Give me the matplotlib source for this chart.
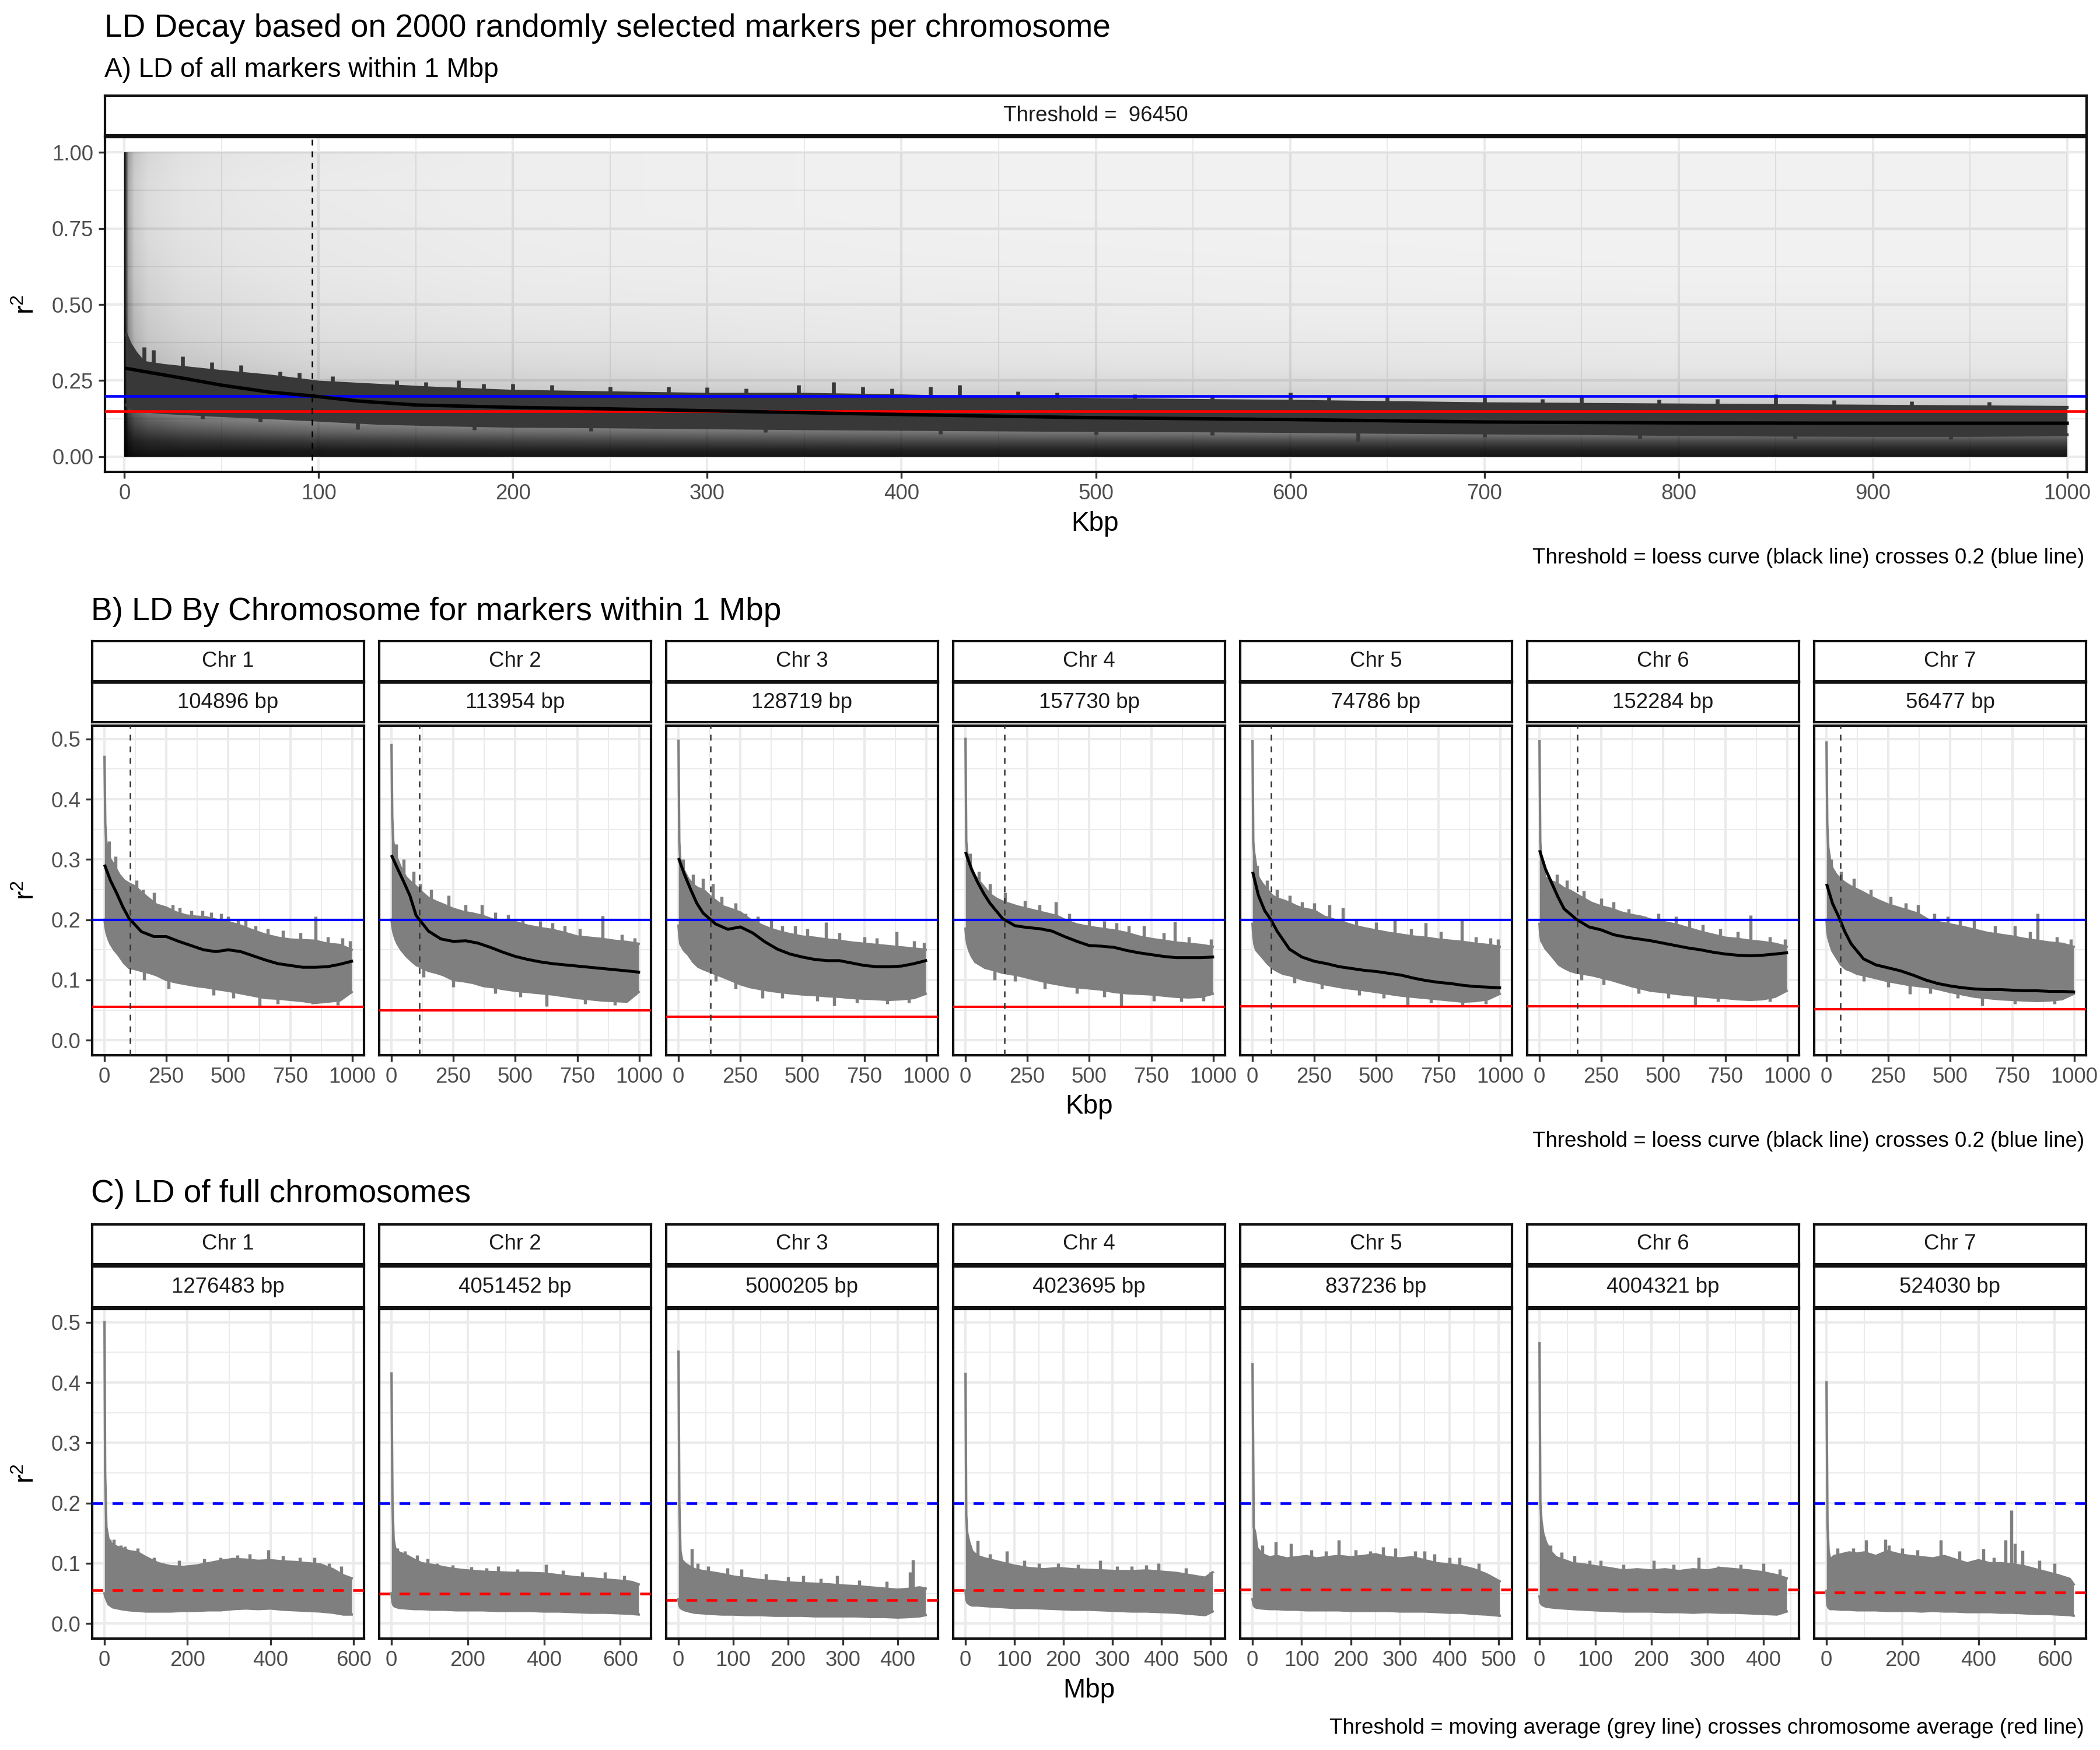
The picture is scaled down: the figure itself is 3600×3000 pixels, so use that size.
import numpy as np
import matplotlib.pyplot as plt

plt.rcParams['font.family'] = ['Liberation Sans', 'DejaVu Sans']
plt.rcParams['mathtext.fontset'] = 'custom'
plt.rcParams['mathtext.rm'] = 'Liberation Sans'

W, H = 3600, 3000

# ---------------- data ----------------
chroms = ["Chr 1", "Chr 2", "Chr 3", "Chr 4", "Chr 5", "Chr 6", "Chr 7"]
threshold_all = 96450
b_thresh_bp = [104896, 113954, 128719, 157730, 74786, 152284, 56477]
c_size_bp = [1276483, 4051452, 5000205, 4023695, 837236, 4004321, 524030]
chrom_avg = [0.055, 0.050, 0.039, 0.055, 0.056, 0.056, 0.051]
a_avg = 0.15

# panel A: estimated point density of the r2 cloud (rows = r2, cols = Kbp)
dens_x = [0, 2, 5, 12, 30, 60, 100, 200, 400, 600, 800, 1000]
dens_y = [0.0, 0.02, 0.05, 0.08, 0.12, 0.16, 0.20, 0.25, 0.30, 0.40, 0.50, 0.60, 0.70, 0.80, 0.90, 1.0]
dens = [
    [1.0, 0.97, 0.95, 0.94, 0.93, 0.93, 0.92, 0.92, 0.92, 0.92, 0.92, 0.92],
    [1.0, 0.95, 0.92, 0.90, 0.90, 0.90, 0.90, 0.88, 0.88, 0.88, 0.88, 0.88],
    [1.0, 0.92, 0.88, 0.85, 0.82, 0.80, 0.78, 0.75, 0.72, 0.72, 0.72, 0.72],
    [1.0, 0.88, 0.80, 0.75, 0.70, 0.66, 0.62, 0.58, 0.55, 0.52, 0.50, 0.50],
    [1.0, 0.80, 0.70, 0.62, 0.55, 0.50, 0.46, 0.42, 0.38, 0.35, 0.33, 0.33],
    [1.0, 0.72, 0.60, 0.50, 0.42, 0.38, 0.34, 0.30, 0.26, 0.24, 0.22, 0.22],
    [1.0, 0.65, 0.50, 0.40, 0.34, 0.30, 0.26, 0.23, 0.20, 0.18, 0.17, 0.17],
    [1.0, 0.58, 0.42, 0.33, 0.28, 0.24, 0.21, 0.18, 0.15, 0.14, 0.13, 0.13],
    [1.0, 0.52, 0.36, 0.28, 0.23, 0.20, 0.17, 0.15, 0.12, 0.11, 0.10, 0.10],
    [1.0, 0.46, 0.30, 0.22, 0.18, 0.15, 0.13, 0.11, 0.09, 0.085, 0.08, 0.08],
    [0.95, 0.42, 0.26, 0.19, 0.15, 0.13, 0.11, 0.09, 0.08, 0.07, 0.07, 0.07],
    [0.95, 0.38, 0.23, 0.17, 0.13, 0.11, 0.095, 0.08, 0.07, 0.065, 0.06, 0.06],
    [0.95, 0.36, 0.21, 0.15, 0.12, 0.10, 0.09, 0.075, 0.065, 0.06, 0.055, 0.055],
    [0.95, 0.34, 0.20, 0.14, 0.11, 0.095, 0.085, 0.07, 0.06, 0.055, 0.055, 0.055],
    [0.95, 0.34, 0.20, 0.14, 0.11, 0.09, 0.08, 0.07, 0.06, 0.055, 0.055, 0.055],
    [0.95, 0.38, 0.23, 0.16, 0.12, 0.10, 0.09, 0.07, 0.06, 0.055, 0.055, 0.055],
]

# panel A moving average band + loess
a_x = [1, 3, 6, 10, 20, 35, 50, 75, 100, 130, 160, 200, 250, 300, 350, 400, 450, 500,
       550, 600, 650, 700, 750, 800, 850, 900, 950, 1000]
a_upper = [0.40, 0.37, 0.34, 0.31, 0.30, 0.29, 0.28, 0.265, 0.245, 0.235, 0.225, 0.215, 0.21,
           0.205, 0.205, 0.20, 0.192, 0.188, 0.185, 0.182, 0.178, 0.174, 0.172, 0.17, 0.168,
           0.166, 0.164, 0.162]
a_lower = [0.17, 0.16, 0.155, 0.15, 0.145, 0.14, 0.135, 0.128, 0.12, 0.11, 0.105, 0.10, 0.098,
           0.095, 0.092, 0.09, 0.088, 0.086, 0.085, 0.083, 0.08, 0.078, 0.076, 0.073, 0.071,
           0.07, 0.07, 0.072]
a_spike_x = [10, 15, 30, 45, 60, 80, 90, 107, 140, 155, 172, 185, 200, 220, 250, 280, 300, 320,
             347, 365, 380, 395, 415, 430, 460, 480, 520, 560, 600, 620, 650, 700, 730, 750,
             790, 820, 850, 880, 920, 960]
a_spike_top = [0.36, 0.35, 0.33, 0.31, 0.30, 0.28, 0.275, 0.265, 0.25, 0.245, 0.25, 0.24, 0.24,
               0.235, 0.23, 0.23, 0.228, 0.225, 0.235, 0.245, 0.23, 0.225, 0.23, 0.235, 0.215,
               0.21, 0.205, 0.203, 0.21, 0.20, 0.198, 0.195, 0.19, 0.20, 0.188, 0.19, 0.205,
               0.185, 0.182, 0.18]
a_dip_x = [40, 70, 120, 180, 240, 330, 420, 500, 560, 635, 700, 780, 860, 940]
a_dip_bot = [0.125, 0.115, 0.09, 0.088, 0.085, 0.08, 0.075, 0.072, 0.07, 0.05, 0.065, 0.06,
             0.06, 0.058]
a_loess_x = [1, 30, 50, 75, 96.45, 120, 150, 200, 250, 300, 370, 450, 500, 600, 700, 800, 900, 1000]
a_loess_y = [0.29, 0.258, 0.235, 0.212, 0.20, 0.183, 0.17, 0.162, 0.157, 0.151, 0.142, 0.133,
             0.128, 0.122, 0.114, 0.111, 0.11, 0.11]

# panel B (Kbp), one list per chromosome
b_x = [1, 4, 8, 15, 25, 40, 60, 80, 100, 125, 150, 180, 210, 250, 290, 330, 370, 410, 450,
       500, 550, 600, 650, 700, 750, 800, 850, 900, 950, 997]
b_upper = [
    [0.47, 0.36, 0.33, 0.31, 0.30, 0.29, 0.275, 0.265, 0.26, 0.255, 0.245, 0.235, 0.225, 0.22, 0.212,
     0.207, 0.205, 0.204, 0.20, 0.196, 0.19, 0.182, 0.175, 0.17, 0.167, 0.166, 0.165, 0.16, 0.158, 0.15],
    [0.49, 0.37, 0.33, 0.31, 0.30, 0.285, 0.27, 0.262, 0.255, 0.245, 0.236, 0.23, 0.225, 0.218, 0.213,
     0.21, 0.206, 0.20, 0.198, 0.196, 0.19, 0.186, 0.183, 0.178, 0.172, 0.17, 0.168, 0.165, 0.163, 0.16],
    [0.497, 0.33, 0.30, 0.29, 0.28, 0.268, 0.258, 0.252, 0.25, 0.24, 0.232, 0.222, 0.218, 0.212, 0.20,
     0.192, 0.185, 0.18, 0.176, 0.172, 0.17, 0.167, 0.165, 0.162, 0.16, 0.158, 0.156, 0.154, 0.152, 0.15],
    [0.50, 0.33, 0.31, 0.30, 0.285, 0.272, 0.262, 0.252, 0.242, 0.235, 0.23, 0.226, 0.222, 0.218, 0.214,
     0.21, 0.206, 0.198, 0.192, 0.188, 0.185, 0.182, 0.178, 0.172, 0.168, 0.165, 0.162, 0.16, 0.158, 0.155],
    [0.496, 0.33, 0.31, 0.29, 0.27, 0.26, 0.25, 0.24, 0.235, 0.232, 0.228, 0.222, 0.218, 0.215, 0.205,
     0.20, 0.195, 0.19, 0.186, 0.182, 0.178, 0.175, 0.172, 0.17, 0.167, 0.165, 0.163, 0.16, 0.158, 0.155],
    [0.496, 0.33, 0.30, 0.28, 0.27, 0.265, 0.262, 0.258, 0.252, 0.248, 0.242, 0.235, 0.228, 0.222, 0.218,
     0.212, 0.208, 0.205, 0.20, 0.196, 0.192, 0.186, 0.18, 0.175, 0.17, 0.168, 0.165, 0.163, 0.16, 0.155],
    [0.494, 0.36, 0.32, 0.30, 0.285, 0.275, 0.266, 0.26, 0.255, 0.25, 0.245, 0.238, 0.232, 0.225, 0.22,
     0.215, 0.21, 0.20, 0.196, 0.192, 0.188, 0.183, 0.178, 0.175, 0.172, 0.168, 0.165, 0.162, 0.16, 0.155],
]
b_lower = [
    [0.20, 0.19, 0.18, 0.17, 0.16, 0.15, 0.14, 0.128, 0.12, 0.118, 0.115, 0.112, 0.108, 0.10, 0.096,
     0.093, 0.09, 0.088, 0.085, 0.082, 0.078, 0.074, 0.07, 0.069, 0.067, 0.065, 0.062, 0.064, 0.066, 0.08],
    [0.20, 0.19, 0.18, 0.17, 0.16, 0.15, 0.14, 0.132, 0.125, 0.12, 0.115, 0.112, 0.108, 0.10, 0.098,
     0.095, 0.09, 0.088, 0.085, 0.082, 0.08, 0.078, 0.076, 0.073, 0.07, 0.068, 0.066, 0.065, 0.064, 0.08],
    [0.19, 0.175, 0.16, 0.155, 0.148, 0.142, 0.13, 0.122, 0.118, 0.114, 0.11, 0.105, 0.10, 0.093, 0.088,
     0.085, 0.082, 0.08, 0.078, 0.076, 0.075, 0.073, 0.072, 0.07, 0.069, 0.068, 0.067, 0.068, 0.07, 0.077],
    [0.185, 0.17, 0.16, 0.15, 0.14, 0.13, 0.125, 0.12, 0.118, 0.115, 0.112, 0.11, 0.108, 0.104, 0.10,
     0.096, 0.093, 0.09, 0.088, 0.086, 0.084, 0.08, 0.078, 0.077, 0.076, 0.074, 0.072, 0.071, 0.072, 0.077],
    [0.193, 0.175, 0.16, 0.15, 0.145, 0.138, 0.128, 0.12, 0.115, 0.11, 0.108, 0.104, 0.10, 0.097, 0.093,
     0.09, 0.087, 0.085, 0.083, 0.08, 0.077, 0.074, 0.072, 0.07, 0.068, 0.066, 0.064, 0.065, 0.068, 0.077],
    [0.193, 0.175, 0.165, 0.16, 0.152, 0.145, 0.135, 0.125, 0.12, 0.115, 0.112, 0.11, 0.108, 0.104, 0.10,
     0.095, 0.09, 0.086, 0.082, 0.08, 0.077, 0.075, 0.073, 0.071, 0.07, 0.068, 0.067, 0.068, 0.072, 0.082],
    [0.20, 0.18, 0.17, 0.16, 0.148, 0.138, 0.125, 0.118, 0.115, 0.11, 0.108, 0.105, 0.102, 0.098, 0.095,
     0.092, 0.09, 0.088, 0.085, 0.08, 0.076, 0.072, 0.07, 0.068, 0.067, 0.066, 0.065, 0.066, 0.068, 0.077],
]
b_spike_x = [
    [20, 45, 100, 130, 155, 200, 245, 275, 305, 350, 395, 430, 470, 500, 540, 570, 610, 660, 720,
     790, 852, 900, 960, 990],
    [20, 50, 90, 115, 160, 230, 300, 365, 420, 470, 530, 600, 650, 700, 760, 851, 930, 980],
    [20, 60, 100, 140, 175, 230, 270, 320, 375, 420, 470, 520, 595, 650, 750, 800, 880, 950, 990],
    [20, 55, 100, 160, 240, 300, 365, 420, 500, 560, 610, 660, 720, 800, 845, 900, 990],
    [20, 60, 100, 150, 200, 250, 310, 365, 420, 500, 575, 640, 700, 760, 845, 900, 960, 990],
    [20, 70, 110, 180, 250, 300, 360, 425, 480, 550, 605, 660, 730, 800, 851, 930, 990],
    [20, 60, 110, 180, 260, 320, 370, 435, 490, 540, 595, 680, 760, 820, 852, 930, 985],
]
b_spike_top = [
    [0.33, 0.305, 0.258, 0.265, 0.25, 0.245, 0.222, 0.225, 0.22, 0.215, 0.215, 0.212, 0.21, 0.205,
     0.20, 0.20, 0.19, 0.185, 0.182, 0.178, 0.205, 0.172, 0.17, 0.165],
    [0.325, 0.30, 0.28, 0.26, 0.25, 0.24, 0.225, 0.225, 0.212, 0.208, 0.20, 0.198, 0.195, 0.19,
     0.185, 0.206, 0.175, 0.17],
    [0.30, 0.275, 0.268, 0.26, 0.238, 0.228, 0.21, 0.205, 0.20, 0.19, 0.19, 0.185, 0.196, 0.178,
     0.172, 0.17, 0.18, 0.165, 0.162],
    [0.31, 0.28, 0.26, 0.245, 0.232, 0.225, 0.23, 0.21, 0.20, 0.198, 0.195, 0.19, 0.19, 0.178,
     0.197, 0.172, 0.168],
    [0.29, 0.265, 0.25, 0.24, 0.23, 0.228, 0.225, 0.22, 0.20, 0.196, 0.20, 0.185, 0.195, 0.18,
     0.202, 0.172, 0.17, 0.168],
    [0.285, 0.275, 0.265, 0.248, 0.235, 0.23, 0.218, 0.205, 0.21, 0.205, 0.20, 0.192, 0.185, 0.18,
     0.207, 0.172, 0.168],
    [0.30, 0.28, 0.268, 0.25, 0.238, 0.228, 0.225, 0.21, 0.205, 0.20, 0.20, 0.19, 0.19, 0.18,
     0.21, 0.172, 0.168],
]
b_dip_x = [
    [160, 260, 440, 520, 625, 700, 840, 940],
    [130, 250, 420, 520, 626, 780, 900],
    [150, 230, 338, 420, 560, 629, 720, 843, 930],
    [117, 200, 320, 450, 560, 629, 760, 870, 960],
    [170, 280, 430, 530, 627, 720, 847, 940],
    [170, 260, 400, 520, 628, 720, 930],
    [150, 250, 337, 420, 530, 628, 760, 920],
]
b_dip_bot = [
    [0.10, 0.085, 0.075, 0.07, 0.056, 0.06, 0.06, 0.058],
    [0.105, 0.088, 0.078, 0.072, 0.056, 0.06, 0.058],
    [0.098, 0.085, 0.07, 0.07, 0.065, 0.057, 0.062, 0.06, 0.062],
    [0.10, 0.098, 0.085, 0.078, 0.072, 0.057, 0.065, 0.064, 0.065],
    [0.095, 0.085, 0.075, 0.07, 0.058, 0.062, 0.058, 0.06],
    [0.10, 0.092, 0.078, 0.07, 0.058, 0.064, 0.064],
    [0.098, 0.088, 0.077, 0.078, 0.07, 0.057, 0.06, 0.06],
]

b_loess_x = [3, 25, 50, 75, 100, 150, 200, 250, 300, 350, 400, 450, 500, 550, 600, 650, 700,
             750, 800, 850, 900, 950, 997]
b_loess_y = [
    [0.289, 0.265, 0.244, 0.221, 0.202, 0.18, 0.172, 0.172, 0.164, 0.157, 0.15, 0.147, 0.15, 0.147,
     0.14, 0.133, 0.127, 0.124, 0.121, 0.121, 0.122, 0.126, 0.131],
    [0.305, 0.285, 0.263, 0.24, 0.207, 0.181, 0.168, 0.164, 0.165, 0.161, 0.154, 0.146, 0.139, 0.134,
     0.13, 0.127, 0.125, 0.123, 0.121, 0.119, 0.117, 0.115, 0.113],
    [0.30, 0.275, 0.25, 0.227, 0.211, 0.193, 0.184, 0.188, 0.178, 0.163, 0.151, 0.143, 0.138, 0.134,
     0.132, 0.132, 0.128, 0.124, 0.122, 0.122, 0.123, 0.127, 0.132],
    [0.31, 0.284, 0.262, 0.243, 0.227, 0.202, 0.19, 0.187, 0.185, 0.181, 0.172, 0.164, 0.157, 0.156,
     0.154, 0.149, 0.145, 0.142, 0.139, 0.137, 0.137, 0.137, 0.138],
    [0.277, 0.24, 0.215, 0.20, 0.181, 0.151, 0.138, 0.131, 0.127, 0.122, 0.119, 0.116, 0.114, 0.111,
     0.108, 0.103, 0.099, 0.096, 0.094, 0.091, 0.089, 0.088, 0.087],
    [0.313, 0.284, 0.261, 0.238, 0.218, 0.2005, 0.188, 0.183, 0.175, 0.171, 0.168, 0.165, 0.161, 0.157,
     0.153, 0.15, 0.146, 0.143, 0.141, 0.14, 0.141, 0.143, 0.145],
    [0.257, 0.227, 0.205, 0.18, 0.16, 0.135, 0.125, 0.12, 0.115, 0.108, 0.10, 0.094, 0.09, 0.087,
     0.085, 0.084, 0.084, 0.083, 0.082, 0.082, 0.081, 0.081, 0.08],
]

# panel C (Mbp), one list per chromosome
c_x = [
    [0.5, 2, 5, 10, 20, 40, 60, 80, 100, 130, 160, 190, 220, 250, 280, 310, 340, 370, 400, 430, 460,
     490, 520, 550, 575, 595],
    [0.5, 3, 6, 10, 20, 40, 60, 80, 110, 140, 170, 200, 240, 280, 320, 360, 400, 440, 480, 520, 560,
     600, 630, 648],
    [0.5, 2, 4, 7, 12, 20, 30, 45, 60, 80, 100, 125, 150, 175, 200, 225, 250, 275, 300, 325, 350, 375,
     400, 425, 440, 451],
    [0.5, 2, 4, 8, 14, 25, 40, 60, 80, 100, 130, 160, 190, 220, 250, 280, 310, 340, 370, 400, 430, 460,
     490, 505],
    [0.5, 3, 6, 10, 20, 35, 50, 70, 90, 110, 130, 150, 175, 200, 225, 250, 275, 300, 325, 350, 375, 400,
     425, 450, 475, 502],
    [0.5, 2, 4, 7, 12, 20, 30, 45, 60, 80, 100, 125, 150, 175, 200, 225, 250, 275, 300, 325, 350, 375,
     400, 425, 442],
    [0.5, 3, 6, 10, 20, 40, 60, 80, 100, 130, 160, 190, 220, 250, 280, 310, 340, 370, 400, 430, 460, 490,
     520, 550, 580, 610, 640, 650],
]
c_upper = [
    [0.50, 0.25, 0.16, 0.14, 0.13, 0.125, 0.12, 0.118, 0.11, 0.10, 0.095, 0.094, 0.096, 0.10, 0.104,
     0.107, 0.106, 0.104, 0.105, 0.103, 0.102, 0.10, 0.098, 0.09, 0.08, 0.075],
    [0.415, 0.20, 0.14, 0.125, 0.118, 0.113, 0.106, 0.10, 0.097, 0.093, 0.09, 0.088, 0.086, 0.085,
     0.084, 0.084, 0.083, 0.08, 0.077, 0.075, 0.073, 0.071, 0.069, 0.065],
    [0.451, 0.20, 0.12, 0.105, 0.10, 0.095, 0.09, 0.087, 0.085, 0.082, 0.078, 0.075, 0.072, 0.07, 0.068,
     0.067, 0.066, 0.065, 0.063, 0.062, 0.06, 0.058, 0.056, 0.058, 0.06, 0.058],
    [0.414, 0.18, 0.15, 0.135, 0.12, 0.112, 0.108, 0.104, 0.10, 0.096, 0.092, 0.09, 0.092, 0.09, 0.089,
     0.088, 0.087, 0.087, 0.088, 0.086, 0.084, 0.08, 0.076, 0.085],
    [0.43, 0.16, 0.15, 0.125, 0.115, 0.11, 0.112, 0.108, 0.11, 0.112, 0.108, 0.11, 0.112, 0.11, 0.112,
     0.115, 0.11, 0.108, 0.11, 0.105, 0.10, 0.098, 0.095, 0.09, 0.082, 0.07],
    [0.465, 0.20, 0.17, 0.15, 0.135, 0.12, 0.11, 0.105, 0.10, 0.098, 0.095, 0.092, 0.088, 0.09, 0.088,
     0.09, 0.087, 0.09, 0.088, 0.092, 0.09, 0.088, 0.085, 0.08, 0.075],
    [0.40, 0.165, 0.12, 0.106, 0.112, 0.115, 0.118, 0.116, 0.118, 0.112, 0.12, 0.115, 0.112, 0.11, 0.108,
     0.112, 0.106, 0.10, 0.105, 0.10, 0.10, 0.098, 0.095, 0.09, 0.085, 0.08, 0.074, 0.065],
]
c_lower = [
    [0.05, 0.045, 0.04, 0.032, 0.027, 0.024, 0.022, 0.021, 0.02, 0.02, 0.02, 0.021, 0.021, 0.022, 0.022,
     0.024, 0.025, 0.024, 0.025, 0.023, 0.022, 0.021, 0.02, 0.018, 0.015, 0.015],
    [0.05, 0.035, 0.03, 0.028, 0.026, 0.025, 0.024, 0.024, 0.023, 0.023, 0.022, 0.022, 0.022, 0.021,
     0.021, 0.021, 0.02, 0.02, 0.019, 0.018, 0.018, 0.017, 0.016, 0.015],
    [0.04, 0.03, 0.026, 0.024, 0.022, 0.02, 0.018, 0.017, 0.016, 0.015, 0.015, 0.014, 0.014, 0.013,
     0.013, 0.013, 0.012, 0.012, 0.012, 0.012, 0.011, 0.011, 0.01, 0.011, 0.012, 0.014],
    [0.055, 0.04, 0.035, 0.032, 0.03, 0.03, 0.029, 0.028, 0.027, 0.026, 0.026, 0.025, 0.024, 0.023,
     0.023, 0.022, 0.021, 0.02, 0.02, 0.019, 0.018, 0.016, 0.014, 0.02],
    [0.04, 0.03, 0.027, 0.026, 0.025, 0.024, 0.024, 0.023, 0.023, 0.022, 0.022, 0.022, 0.022, 0.021,
     0.021, 0.021, 0.021, 0.02, 0.02, 0.02, 0.019, 0.018, 0.018, 0.016, 0.015, 0.013],
    [0.045, 0.035, 0.032, 0.03, 0.028, 0.027, 0.026, 0.025, 0.024, 0.023, 0.022, 0.021, 0.02, 0.02,
     0.02, 0.019, 0.019, 0.018, 0.019, 0.018, 0.018, 0.017, 0.016, 0.015, 0.02],
    [0.054, 0.03, 0.026, 0.024, 0.024, 0.023, 0.023, 0.022, 0.022, 0.022, 0.021, 0.021, 0.021, 0.02,
     0.021, 0.02, 0.02, 0.019, 0.019, 0.019, 0.018, 0.018, 0.017, 0.016, 0.016, 0.015, 0.014, 0.013],
]
c_spike_x = [
    [13, 22, 40, 50, 80, 120, 180, 240, 280, 320, 350, 395, 430, 470, 505, 540, 570],
    [15, 35, 68, 95, 120, 160, 210, 250, 280, 330, 405, 450, 500, 560, 610],
    [25, 35, 55, 90, 115, 160, 200, 228, 260, 290, 330, 380, 422, 428],
    [10, 25, 50, 85, 120, 150, 190, 230, 275, 310, 340, 370, 395, 450, 500],
    [20, 48, 78, 120, 150, 175, 210, 240, 265, 290, 330, 350, 370, 400, 420, 460],
    [20, 40, 63, 90, 110, 150, 205, 240, 285, 320, 360, 400, 430],
    [30, 70, 105, 155, 165, 200, 240, 300, 350, 413, 440, 471, 486, 496, 516, 560, 600],
]
c_spike_top = [
    [0.14, 0.14, 0.13, 0.128, 0.125, 0.11, 0.105, 0.108, 0.11, 0.113, 0.115, 0.122, 0.112, 0.11,
     0.11, 0.10, 0.095],
    [0.125, 0.12, 0.113, 0.108, 0.10, 0.097, 0.094, 0.092, 0.095, 0.09, 0.098, 0.088, 0.085, 0.085,
     0.08],
    [0.124, 0.10, 0.095, 0.092, 0.09, 0.082, 0.078, 0.08, 0.075, 0.08, 0.072, 0.07, 0.085, 0.106],
    [0.13, 0.138, 0.115, 0.12, 0.105, 0.10, 0.10, 0.098, 0.105, 0.095, 0.095, 0.097, 0.10, 0.092, 0.085],
    [0.13, 0.136, 0.133, 0.122, 0.12, 0.139, 0.122, 0.12, 0.127, 0.125, 0.12, 0.12, 0.115, 0.11,
     0.11, 0.10],
    [0.13, 0.118, 0.112, 0.105, 0.105, 0.098, 0.105, 0.098, 0.11, 0.095, 0.098, 0.10, 0.09],
    [0.125, 0.125, 0.139, 0.14, 0.13, 0.125, 0.122, 0.139, 0.12, 0.124, 0.11, 0.139, 0.188, 0.133,
     0.121, 0.105, 0.10],
]
c_ticks = [[0, 200, 400, 600], [0, 200, 400, 600], [0, 100, 200, 300, 400],
           [0, 100, 200, 300, 400, 500], [0, 100, 200, 300, 400, 500],
           [0, 100, 200, 300, 400], [0, 200, 400, 600]]

# ---------------- drawing ----------------
fig = plt.figure(figsize=(12, 10), dpi=300)

GRID = '#ebebeb'
TXT = '#4d4d4d'
BAND = '#7f7f7f'


def box(l, t, r, b):
    return [l / W, 1 - b / H, (r - l) / W, (b - t) / H]


def style_ax(ax, xticks, yticks, show_y):
    ax.set_xticks(xticks)
    ax.set_yticks(yticks)
    xm = [(a + b) / 2 for a, b in zip(xticks[:-1], xticks[1:])]
    step = xticks[1] - xticks[0]
    lo, hi = ax.get_xlim()
    if xticks[-1] + step / 2 < hi:
        xm.append(xticks[-1] + step / 2)
    ym = [(a + b) / 2 for a, b in zip(yticks[:-1], yticks[1:])]
    ax.set_xticks(xm, minor=True)
    ax.set_yticks(ym, minor=True)
    ax.grid(which='major', color=GRID, lw=1.0)
    ax.grid(which='minor', color=GRID, lw=0.5)
    ax.set_axisbelow(True)
    ax.tick_params(which='major', length=2.75, width=0.8, color='#333333',
                   labelsize=8.8, labelcolor=TXT, pad=2)
    ax.tick_params(which='minor', length=0)
    if not show_y:
        ax.tick_params(axis='y', left=False, labelleft=False)
    for s in ax.spines.values():
        s.set_color('#111111')
        s.set_linewidth(1.0)


def strip(l, t, r, b, label):
    sa = fig.add_axes(box(l, t, r, b))
    sa.set_xticks([])
    sa.set_yticks([])
    for s in sa.spines.values():
        s.set_color('#111111')
        s.set_linewidth(1.0)
    sa.text(0.5, 0.5, label, ha='center', va='center', fontsize=8.8, color='#1a1a1a',
            transform=sa.transAxes)


def band(ax, x, lo, hi, color, lw):
    ax.fill_between(x, lo, hi, color=color, lw=0, zorder=3)
    ax.plot(x, hi, color=color, lw=lw, zorder=3)
    ax.plot(x, lo, color=color, lw=lw, zorder=3)


def ftext(x, y, s, **kw):
    fig.text(x / W, 1 - y / H, s, **kw)


# titles
ftext(179, 63, "LD Decay based on 2000 randomly selected markers per chromosome",
      fontsize=13.2, va='baseline')
ftext(179, 132, "A) LD of all markers within 1 Mbp", fontsize=11, va='baseline')
ftext(156, 1063, "B) LD By Chromosome for markers within 1 Mbp", fontsize=13.2, va='baseline')
ftext(156, 2061, "C) LD of full chromosomes", fontsize=13.2, va='baseline')

# ---- panel A ----
axA = fig.add_axes(box(180, 235, 3577, 809))
axA.set_xlim(-10, 1010)
axA.set_ylim(-0.05, 1.05)
style_ax(axA, list(range(0, 1001, 100)), [0, 0.25, 0.5, 0.75, 1.0], True)
axA.set_yticklabels(["0.00", "0.25", "0.50", "0.75", "1.00"])

# render the estimated cloud density as an image (bilinear between the read-off cells)
fx = np.linspace(0, 1000, 2001)
fy = np.linspace(0, 1, 801)
rows = np.array([np.interp(fx, dens_x, row) for row in dens])
alpha = np.array([np.interp(fy, dens_y, rows[:, j]) for j in range(len(fx))]).T
rgba = np.zeros((len(fy), len(fx), 4))
rgba[..., 3] = alpha
axA.imshow(rgba, extent=(0, 1000, 0, 1), origin='lower', aspect='auto',
           interpolation='bilinear', zorder=2)

band(axA, a_x, a_lower, a_upper, '#383838', 1.2)
axA.vlines(a_spike_x, np.interp(a_spike_x, a_x, a_lower), a_spike_top, color='#383838', lw=1.6, zorder=3)
axA.vlines(a_dip_x, a_dip_bot, np.interp(a_dip_x, a_x, a_upper), color='#383838', lw=1.6, zorder=3)
axA.axhline(0.2, color='#0000ff', lw=1.1, zorder=4)
axA.axhline(a_avg, color='#ff0000', lw=1.1, zorder=4)
axA.plot(a_loess_x, a_loess_y, color='black', lw=1.4, zorder=5)
axA.axvline(threshold_all / 1000, color='black', lw=0.6, ls=(0, (4, 4)), zorder=5)
strip(180, 164, 3577, 232, "Threshold =  %d" % threshold_all)
ftext(1877, 898, "Kbp", fontsize=11, ha='center', va='center')
ftext(46, 522, "r$^2$", fontsize=11, ha='center', va='center', rotation=90)
ftext(3573, 957, "Threshold = loess curve (black line) crosses 0.2 (blue line)",
      fontsize=8.8, ha='right', va='center')

# ---- panels B and C ----
for i in range(7):
    l = 158 + i * 492
    r = l + 466

    # B
    ax = fig.add_axes(box(l, 1244, r, 1809))
    rng = b_x[-1] - b_x[0]
    ax.set_xlim(b_x[0] - 0.05 * rng, b_x[-1] + 0.05 * rng)
    ax.set_ylim(-0.025, 0.522)
    style_ax(ax, [0, 250, 500, 750, 1000], [0, 0.1, 0.2, 0.3, 0.4, 0.5], i == 0)
    if i == 0:
        ax.set_yticklabels(["0.0", "0.1", "0.2", "0.3", "0.4", "0.5"])
    band(ax, b_x, b_lower[i], b_upper[i], BAND, 1.0)
    ax.vlines(b_spike_x[i], np.interp(b_spike_x[i], b_x, b_lower[i]), b_spike_top[i],
              color=BAND, lw=1.3, zorder=3)
    ax.vlines(b_dip_x[i], b_dip_bot[i], np.interp(b_dip_x[i], b_x, b_upper[i]),
              color=BAND, lw=1.3, zorder=3)
    ax.axhline(0.2, color='#0000ff', lw=1.0, zorder=4)
    ax.axhline(chrom_avg[i], color='#ff0000', lw=1.0, zorder=4)
    ax.plot(b_loess_x, b_loess_y[i], color='black', lw=1.2, zorder=5)
    ax.axvline(b_thresh_bp[i] / 1000, color='#333333', lw=0.6, ls=(0, (4, 4)), zorder=5)
    strip(l, 1099, r, 1168, chroms[i])
    strip(l, 1170, r, 1238, "%d bp" % b_thresh_bp[i])

    # C
    ax = fig.add_axes(box(l, 2244, r, 2809))
    xs = c_x[i]
    rng = xs[-1] - xs[0]
    ax.set_xlim(xs[0] - 0.05 * rng, xs[-1] + 0.05 * rng)
    ax.set_ylim(-0.025, 0.522)
    style_ax(ax, c_ticks[i], [0, 0.1, 0.2, 0.3, 0.4, 0.5], i == 0)
    if i == 0:
        ax.set_yticklabels(["0.0", "0.1", "0.2", "0.3", "0.4", "0.5"])
    band(ax, xs, c_lower[i], c_upper[i], BAND, 1.0)
    ax.vlines(c_spike_x[i], np.interp(c_spike_x[i], xs, c_lower[i]), c_spike_top[i],
              color=BAND, lw=1.3, zorder=3)
    ax.axhline(0.2, color='#0000ff', lw=1.1, ls=(0, (4, 3.5)), zorder=4)
    ax.axhline(chrom_avg[i], color='#ff0000', lw=1.1, ls=(0, (4, 3.5)), zorder=4)
    strip(l, 2099, r, 2167, chroms[i])
    strip(l, 2171, r, 2241, "%d bp" % c_size_bp[i])

ftext(1867, 1897, "Kbp", fontsize=11, ha='center', va='center')
ftext(46, 1526, "r$^2$", fontsize=11, ha='center', va='center', rotation=90)
ftext(3573, 1957, "Threshold = loess curve (black line) crosses 0.2 (blue line)",
      fontsize=8.8, ha='right', va='center')
ftext(1867, 2898, "Mbp", fontsize=11, ha='center', va='center')
ftext(46, 2526, "r$^2$", fontsize=11, ha='center', va='center', rotation=90)
ftext(3573, 2962, "Threshold = moving average (grey line) crosses chromosome average (red line)",
      fontsize=8.8, ha='right', va='center')

fig.savefig("out.png", dpi=300, facecolor='white')
